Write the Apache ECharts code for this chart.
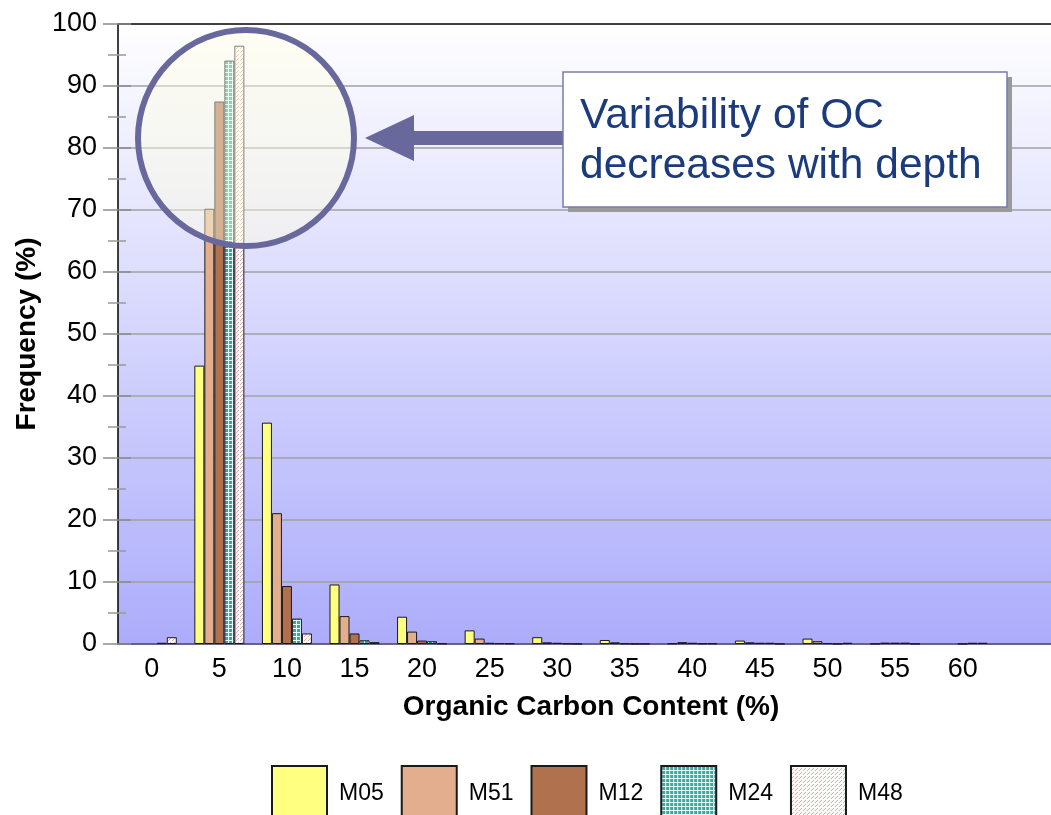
<!DOCTYPE html>
<html>
<head>
<meta charset="utf-8">
<title>Organic Carbon Content - frequency</title>
<script src="https://cdn.jsdelivr.net/npm/echarts@6/dist/echarts.min.js"></script>
<style>
  html, body { margin: 0; padding: 0; background: #fff; overflow: hidden; }
  /* the plot runs past the right edge of the picture, so the canvas is a bit wider than the window */
  #main { width: 1070px; height: 815px; }
</style>
</head>
<body>
<div id="main"></div>
<script>
// OC classes (%), the last slot is the empty class the plot runs into
var categories = ['0', '5', '10', '15', '20', '25', '30', '35', '40', '45', '50', '55', '60', ''];
var seriesNames = ['M05', 'M51', 'M12', 'M24', 'M48'];

// frequency (%) per class
var m05 = [null, 44.9, 35.7, 9.6, 4.4, 2.2, 1.1, 0.65, 0.1, 0.55, 0.87, 0.05, null, null];
var m51 = [null, 70.2, 21.1, 4.5, 2.0, 0.87, 0.27, 0.27, 0.3, 0.27, 0.45, 0.22, null, null];
var m12 = [null, 87.5, 9.35, 1.7, 0.55, 0.2, 0.2, 0.1, 0.2, 0.2, 0.15, 0.22, 0.05, null];
var m24 = [0.2, 94.1, 4.1, 0.6, 0.45, 0.15, 0.1, 0.05, 0.1, 0.2, 0.05, 0.22, 0.2, null];
var m48 = [1.1, 96.5, 1.7, 0.3, 0.1, 0.1, 0.05, 0.05, 0.1, 0.05, 0.2, 0.05, 0.2, null];

var yMin = 0, yMax = 100, yStep = 10;
var noteText = 'Variability of OC\ndecreases with depth';

var FONT = '"Liberation Sans", Arial, sans-serif';

// small tiled fills for the hatched series
function makePattern(size, bg, fg, dots) {
  var c = document.createElement('canvas');
  c.width = size;
  c.height = size;
  var ctx = c.getContext('2d');
  ctx.fillStyle = bg;
  ctx.fillRect(0, 0, size, size);
  ctx.fillStyle = fg;
  for (var i = 0; i < dots.length; i++) {
    ctx.fillRect(dots[i][0], dots[i][1], dots[i][2], dots[i][3]);
  }
  return { image: c, repeat: 'repeat' };
}

var fills = [
  '#ffff80',
  '#e2ae8e',
  '#b0714f',
  makePattern(4, '#3ba89d', '#e6fffb', [[0, 0, 4, 1], [0, 0, 1, 4]]),
  makePattern(4, '#fffafa', '#dcaaaa', [[0, 0, 1, 1], [2, 2, 1, 1], [1, 3, 1, 1]])
];
var allData = [m05, m51, m12, m24, m48];

// split line colours: grey, the top one black
var splitColors = [];
for (var v = yMin; v <= yMax; v += yStep) {
  splitColors.push(v === yMax ? '#000' : '#a0a0a0');
}

var chart = echarts.init(document.getElementById('main'));

var option = {
  animation: false,
  textStyle: { fontFamily: FONT },
  grid: {
    left: 118,
    top: 24,
    right: 6,
    bottom: 171,
    show: true,
    borderWidth: 0,
    backgroundColor: new echarts.graphic.LinearGradient(0, 0, 0, 1, [
      { offset: 0, color: '#ffffff' },
      { offset: 0.04, color: '#fbfbff' },
      { offset: 1, color: '#acacfb' }
    ])
  },
  legend: {
    data: seriesNames,
    left: 271,
    top: 765,
    padding: 0,
    itemWidth: 55,
    itemHeight: 55,
    itemGap: 17,
    icon: 'rect',
    textStyle: { fontSize: 23, color: '#000', fontFamily: FONT, padding: [0, 0, 0, 7] }
  },
  xAxis: [{
    type: 'category',
    data: categories,
    name: 'Organic Carbon Content (%)',
    nameLocation: 'middle',
    nameGap: 49,
    nameTextStyle: { fontSize: 28, fontWeight: 'bold', color: '#000', fontFamily: FONT },
    axisLine: { lineStyle: { color: '#4c4c70', width: 1.5 } },
    axisTick: { length: 10, lineStyle: { color: '#999', width: 1.5 } },
    axisLabel: { fontSize: 27, color: '#000', margin: 12, fontFamily: FONT },
    splitLine: { show: false }
  }, {
    // inner half of the crossing ticks
    type: 'category',
    data: categories,
    position: 'bottom',
    axisLine: { show: false },
    axisTick: { inside: true, length: 11, lineStyle: { color: '#999', width: 1.5 } },
    axisLabel: { show: false },
    splitLine: { show: false }
  }],
  yAxis: [{
    type: 'value',
    min: yMin,
    max: yMax,
    interval: yStep,
    name: 'Frequency (%)',
    nameLocation: 'middle',
    nameGap: 76,
    nameTextStyle: { fontSize: 28, fontWeight: 'bold', color: '#000', fontFamily: FONT },
    axisLine: { show: true, lineStyle: { color: '#000', width: 1.5 } },
    axisTick: { show: true, length: 15, lineStyle: { color: '#8c8c8c', width: 1.5 } },
    minorTick: { show: true, splitNumber: 2, length: 10, lineStyle: { color: '#999', width: 1.5 } },
    axisLabel: { fontSize: 27, color: '#000', margin: 21, fontFamily: FONT },
    splitLine: { show: true, lineStyle: { color: splitColors, width: 1.5 } }
  }, {
    type: 'value',
    min: yMin,
    max: yMax,
    interval: yStep,
    position: 'left',
    axisLine: { show: false },
    axisTick: { show: true, inside: true, length: 13, lineStyle: { color: '#8c8c8c', width: 1.5 } },
    minorTick: { show: true, splitNumber: 2, length: 8, lineStyle: { color: '#999', width: 1.5 } },
    axisLabel: { show: false },
    splitLine: { show: false }
  }],
  series: seriesNames.map(function (name, i) {
    return {
      name: name,
      type: 'bar',
      xAxisIndex: 0,
      yAxisIndex: 0,
      barWidth: 10,
      barGap: '0%',
      data: allData[i],
      itemStyle: { color: fills[i], borderColor: '#1a1a1a', borderWidth: 1 }
    };
  }),
  graphic: [
    {
      type: 'circle',
      z: 100,
      shape: { cx: 246, cy: 138, r: 108 },
      style: { fill: 'rgba(255,255,228,0.45)', stroke: '#68689c', lineWidth: 6 }
    },
    {
      type: 'polygon',
      z: 100,
      shape: { points: [[365, 138], [414, 115], [414, 131], [568, 131], [568, 145], [414, 145], [414, 161]] },
      style: { fill: '#68689c' }
    },
    {
      // flat drop shadow of the note box
      type: 'rect',
      z: 101,
      shape: { x: 568, y: 77, width: 444, height: 135 },
      style: { fill: '#9a9a9a' }
    },
    {
      type: 'rect',
      z: 102,
      shape: { x: 563, y: 72, width: 444, height: 135 },
      style: { fill: '#fff', stroke: '#7a7aae', lineWidth: 1.5 }
    },
    {
      type: 'text',
      z: 103,
      style: {
        x: 580, y: 141,
        text: noteText,
        font: '42.5px "Liberation Sans", Arial, sans-serif',
        lineHeight: 50,
        fill: '#1b3b7c',
        verticalAlign: 'middle',
        align: 'left'
      }
    }
  ]
};

chart.setOption(option);
</script>
</body>
</html>
